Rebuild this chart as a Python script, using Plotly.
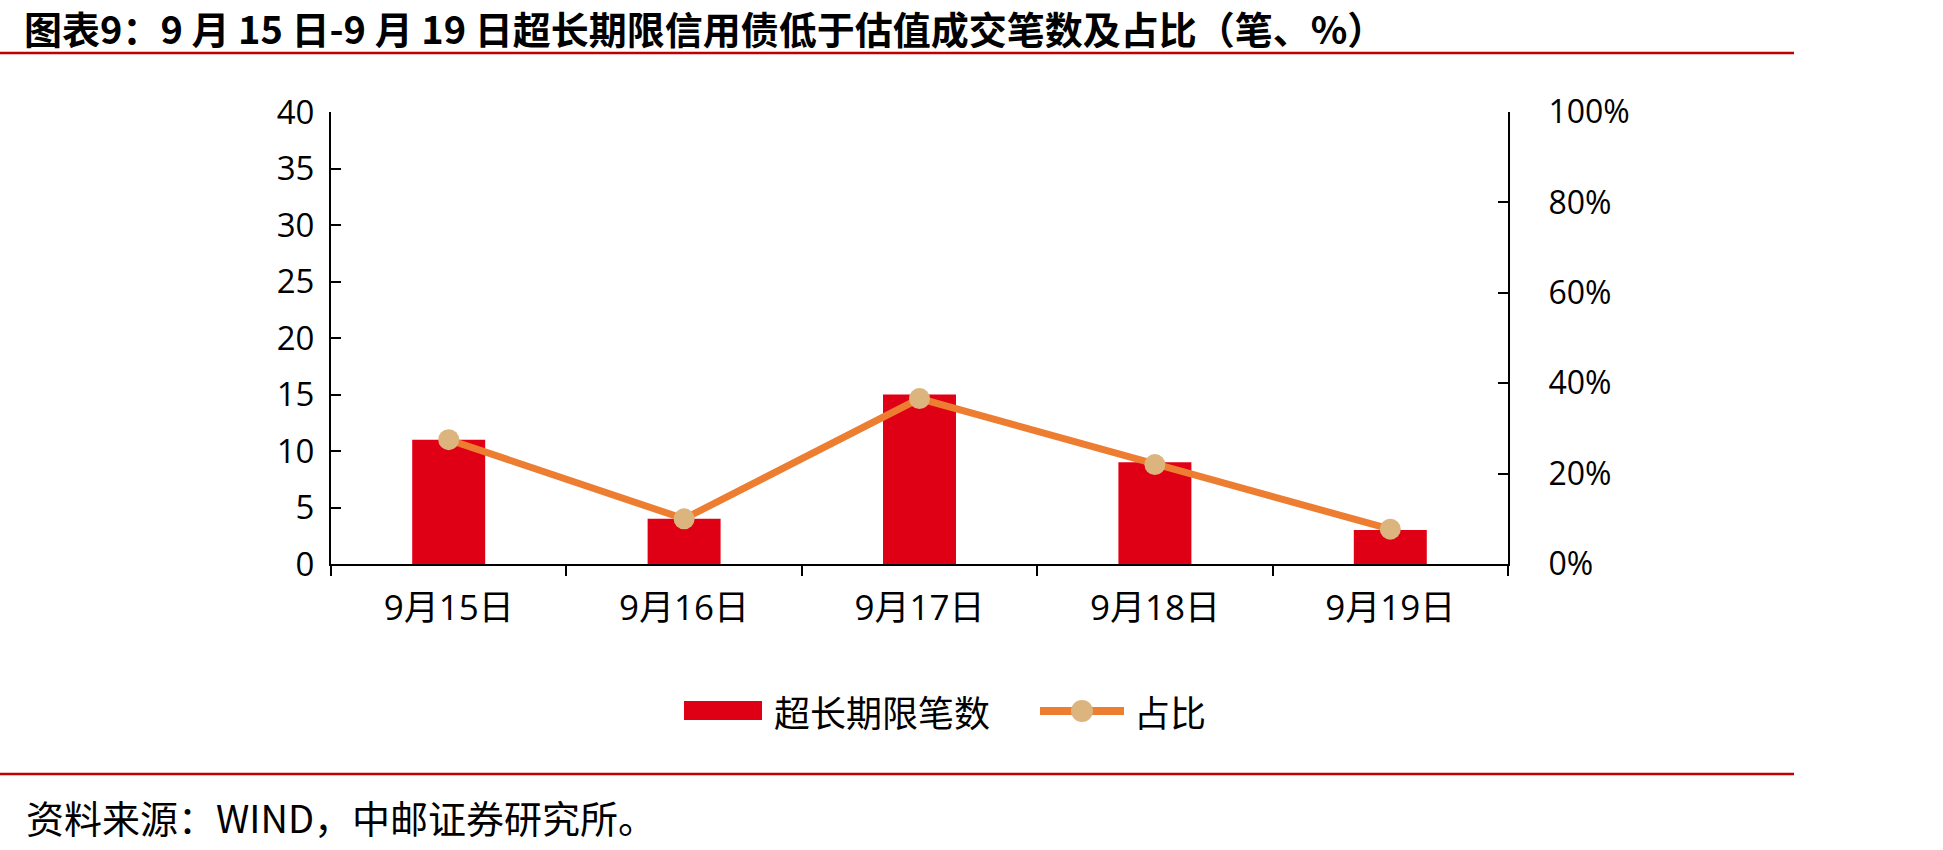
import plotly.graph_objects as go

categories = ["9月15日", "9月16日", "9月17日", "9月18日", "9月19日"]
counts = [11, 4, 15, 9, 3]
ratios = [0.275, 0.10, 0.366, 0.22, 0.077]

W, H = 1943, 850
L, R, T, B = 331, 1508, 112, 564

def px(x):
    return (x - L) / (R - L)

def py(y):
    return (B - y) / (B - T)

BAR = "#E00016"
LINE = "#ED7D31"
MARK = "#DCB47E"
RED = "#C00000"
FONT = "Open Sans, Noto Sans CJK SC, sans-serif"
CJK = "Noto Sans CJK SC, sans-serif"

fig = go.Figure()
fig.add_trace(go.Bar(x=categories, y=counts, name="超长期限笔数",
                     marker=dict(color=BAR, line=dict(width=0)),
                     width=0.31, yaxis="y", showlegend=False))
fig.add_trace(go.Scatter(x=categories, y=ratios, name="占比", mode="lines+markers",
                         line=dict(color=LINE, width=7),
                         marker=dict(color=MARK, size=21, line=dict(width=0)),
                         yaxis="y2", showlegend=False))

shapes = []
# title & footer red rules
for yy in (53, 774):
    shapes.append(dict(type="line", xref="paper", yref="paper",
                       x0=px(0), x1=px(1794), y0=py(yy), y1=py(yy),
                       line=dict(color=RED, width=2.5)))
# legend swatches
shapes.append(dict(type="rect", xref="paper", yref="paper",
                   x0=px(684), x1=px(762), y0=py(720), y1=py(701),
                   fillcolor=BAR, line=dict(width=0)))
shapes.append(dict(type="line", xref="paper", yref="paper",
                   x0=px(1040), x1=px(1124), y0=py(711), y1=py(711),
                   line=dict(color=LINE, width=8)))
shapes.append(dict(type="circle", xref="paper", yref="paper",
                   x0=px(1071), x1=px(1093), y0=py(722), y1=py(700),
                   fillcolor=MARK, line=dict(width=0)))

annotations = [
    dict(text="<b>图表9：9 月 15 日-9 月 19 日超长期限信用债低于估值成交笔数及占比（笔、%）</b>",
         xref="paper", yref="paper", x=px(22), y=py(28), xanchor="left", yanchor="middle",
         showarrow=False, font=dict(family=CJK, size=38, color="#000000")),
    dict(text="资料来源：WIND，中邮证券研究所。",
         xref="paper", yref="paper", x=px(24), y=py(816), xanchor="left", yanchor="middle",
         showarrow=False, font=dict(family=CJK, size=38, color="#000000")),
    dict(text="超长期限笔数", xref="paper", yref="paper", x=px(772), y=py(711),
         xanchor="left", yanchor="middle", showarrow=False,
         font=dict(family=CJK, size=36, color="#000000")),
    dict(text="占比", xref="paper", yref="paper", x=px(1132), y=py(711),
         xanchor="left", yanchor="middle", showarrow=False,
         font=dict(family=CJK, size=36, color="#000000")),
]

fig.update_layout(
    width=W, height=H,
    margin=dict(l=L, r=W - R, t=T, b=H - B, pad=0),
    paper_bgcolor="white", plot_bgcolor="white",
    font=dict(family=FONT, size=30, color="#000000"),
    showlegend=False,
    bargap=0.69,
    xaxis=dict(showline=True, linecolor="#000000", linewidth=2,
               ticks="outside", ticklen=10, tickwidth=2, tickcolor="#000000",
               tickson="boundaries", showgrid=False, zeroline=False,
               tickfont=dict(family=FONT, size=35), ticklabelstandoff=12),
    yaxis=dict(range=[0, 40], dtick=5, showline=True, linecolor="#000000", linewidth=2,
               ticks="inside", ticklen=10, tickwidth=2, tickcolor="#000000",
               showgrid=False, zeroline=False, tickfont=dict(family=FONT, size=33),
               ticklabelstandoff=8),
    yaxis2=dict(range=[0, 1], dtick=0.2, tickformat=".0%", overlaying="y", side="right",
                showline=True, linecolor="#000000", linewidth=2,
                ticks="inside", ticklen=10, tickwidth=2, tickcolor="#000000",
                showgrid=False, zeroline=False, tickfont=dict(family=FONT, size=32),
                ticklabelstandoff=32),
    shapes=shapes, annotations=annotations,
)

fig.write_html("out.html")
